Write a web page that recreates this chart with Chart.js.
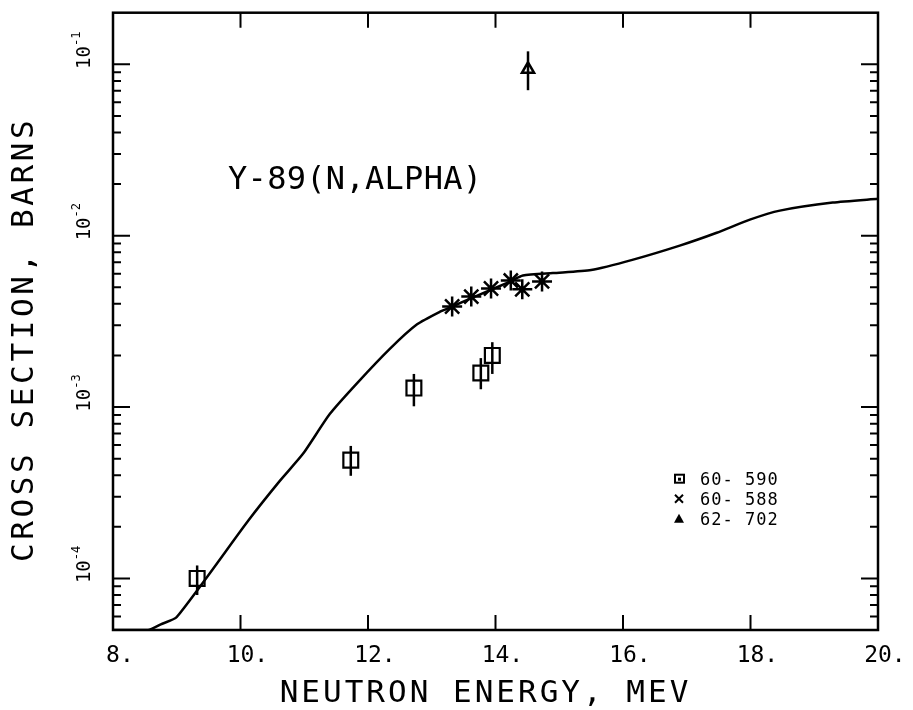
<!DOCTYPE html>
<html>
<head>
<meta charset="utf-8">
<title>Y-89(N,ALPHA)</title>
<script src="https://cdn.jsdelivr.net/npm/chart.js@4/dist/chart.umd.min.js"></script>
<style>
  body { margin: 0; background: #fff; }
  #wrap { width: 913px; height: 710px; }
</style>
</head>
<body>
<div id="wrap"><canvas id="chart" width="913" height="710"></canvas></div>
<script>
// evaluated curve
const curveEnergy = [8.0, 8.55, 8.75, 9.0, 10.12, 10.62, 10.98, 11.40, 11.83, 12.35, 12.77, 13.13, 13.32, 13.76, 14.23, 14.43, 14.9, 15.5, 16.16, 16.89, 17.47, 17.99, 18.46, 19.29, 20.0];
const curveSigma = [5.0e-5, 5.0e-5, 5.4e-5, 5.95e-5, 2.17e-4, 3.72e-4, 5.33e-4, 9.1e-4, 1.38e-3, 2.2e-3, 3.04e-3, 3.6e-3, 3.86e-3, 4.54e-3, 5.4e-3, 5.85e-3, 6.05e-3, 6.3e-3, 7.25e-3, 8.75e-3, 1.04e-2, 1.24e-2, 1.40e-2, 1.56e-2, 1.64e-2];

// measurements 60-590
const e590 = [9.32, 11.73, 12.72, 13.77, 13.95];
const s590 = [1.0e-4, 4.9e-4, 1.29e-3, 1.58e-3, 2.0e-3];
const lo590 = [8.0e-5, 3.97e-4, 1.01e-3, 1.27e-3, 1.56e-3];
const hi590 = [1.19e-4, 5.93e-4, 1.56e-3, 1.93e-3, 2.39e-3];

// measurements 60-588
const e588 = [13.32, 13.62, 13.93, 14.24, 14.42, 14.73];
const s588 = [3.86e-3, 4.41e-3, 4.92e-3, 5.47e-3, 4.86e-3, 5.41e-3];

// measurements 62-702
const e702 = [14.51];
const s702 = [9.35e-2];
const lo702 = [7.06e-2];
const hi702 = [0.119];

const xTicks = [8, 10, 12, 14, 16, 18, 20];
const yDecades = [-4, -3, -2, -1];
const legendLabels = ["60- 590", "60- 588", "62- 702"];
const plotTitle = "Y-89(N,ALPHA)";
const xTitle = "NEUTRON ENERGY, MEV";
const yTitle = "CROSS SECTION, BARNS";

function pts(xs, ys) {
    return xs.map((x, i) => ({ x: x, y: ys[i] }));
}

const errorBars = [
    { xs: e590, lo: lo590, hi: hi590 },
    { xs: e702, lo: lo702, hi: hi702 }
];

const mono = "'DejaVu Sans Mono', monospace";

const drawFrame = {
    id: "drawFrame",
    afterDatasetsDraw(chart) {
        const ctx = chart.ctx;
        const xs = chart.scales.x, ys = chart.scales.y;
        ctx.save();
        ctx.strokeStyle = "#000";
        ctx.lineWidth = 2.5;
        errorBars.forEach(set => {
            set.xs.forEach((x, i) => {
                const px = xs.getPixelForValue(x);
                ctx.beginPath();
                ctx.moveTo(px, ys.getPixelForValue(set.lo[i]));
                ctx.lineTo(px, ys.getPixelForValue(set.hi[i]));
                ctx.stroke();
            });
        });
        ctx.restore();
    },
    afterDraw(chart) {
        const ctx = chart.ctx;
        const a = chart.chartArea;
        const xs = chart.scales.x, ys = chart.scales.y;
        ctx.save();
        ctx.strokeStyle = "#000";
        ctx.fillStyle = "#000";
        ctx.lineWidth = 2.5;
        ctx.strokeRect(a.left, a.top, a.right - a.left, a.bottom - a.top);

        // x ticks, bottom and top, inward
        ctx.lineWidth = 2;
        xTicks.forEach(v => {
            const px = xs.getPixelForValue(v);
            if (v > xs.min && v < xs.max) {
                ctx.beginPath();
                ctx.moveTo(px, a.bottom); ctx.lineTo(px, a.bottom - 15);
                ctx.moveTo(px, a.top); ctx.lineTo(px, a.top + 15);
                ctx.stroke();
            }
        });

        // y ticks, log decades with minor ticks
        for (let e = -5; e <= -1; e++) {
            for (let m = 1; m <= 9; m++) {
                const v = m * Math.pow(10, e);
                if (v <= ys.min || v >= ys.max) continue;
                const py = ys.getPixelForValue(v);
                const len = m === 1 ? 17 : 8;
                ctx.beginPath();
                ctx.moveTo(a.left, py); ctx.lineTo(a.left + len, py);
                ctx.moveTo(a.right, py); ctx.lineTo(a.right - len, py);
                ctx.stroke();
            }
        }

        // x tick labels
        ctx.font = "23px " + mono;
        ctx.textBaseline = "alphabetic";
        xTicks.forEach(v => {
            const px = xs.getPixelForValue(v);
            const s = String(v);
            const w = ctx.measureText(s).width;
            ctx.textAlign = "left";
            ctx.fillText(s + ".", px - w / 2, a.bottom + 32);
        });

        // y tick labels, rotated, 10 with superscript exponent
        yDecades.forEach(e => {
            const py = ys.getPixelForValue(Math.pow(10, e));
            ctx.save();
            ctx.translate(a.left - 23, py - 14);
            ctx.rotate(-Math.PI / 2);
            ctx.font = "19px " + mono;
            const w1 = ctx.measureText("10").width;
            ctx.font = "12px " + mono;
            const sup = "-" + Math.abs(e);
            const w2 = ctx.measureText(sup).width;
            const start = -(w1 + w2) / 2;
            ctx.textAlign = "left";
            ctx.font = "19px " + mono;
            ctx.fillText("10", start, 0);
            ctx.font = "12px " + mono;
            ctx.fillText(sup, start + w1, -10);
            ctx.restore();
        });

        // axis titles
        ctx.font = "31px " + mono;
        ctx.letterSpacing = "3px";
        ctx.textAlign = "center";
        ctx.fillText(xTitle, (a.left + a.right) / 2 - 10, a.bottom + 72);
        ctx.save();
        ctx.letterSpacing = "3.6px";
        ctx.translate(33, (a.top + a.bottom) / 2 + 18);
        ctx.rotate(-Math.PI / 2);
        ctx.fillText(yTitle, 0, 0);
        ctx.restore();

        // plot label
        ctx.font = "32px " + mono;
        ctx.letterSpacing = "0.3px";
        ctx.textAlign = "left";
        ctx.fillText(plotTitle, a.left + 115, a.top + 176);

        // legend
        ctx.font = "17px " + mono;
        ctx.letterSpacing = "1px";
        const lx = a.left + 566, ly = a.top + 472;
        legendLabels.forEach((t, i) => {
            ctx.fillText(t, lx + 21, ly + i * 20);
        });
        ctx.lineWidth = 2;
        // square symbol
        ctx.strokeRect(lx - 4, ly - 10, 9, 8);
        ctx.fillRect(lx - 1, ly - 7, 3, 3);
        // cross symbol
        ctx.beginPath();
        ctx.moveTo(lx - 4, ly + 20 - 10); ctx.lineTo(lx + 4, ly + 20 - 2);
        ctx.moveTo(lx + 4, ly + 20 - 10); ctx.lineTo(lx - 4, ly + 20 - 2);
        ctx.stroke();
        // filled triangle
        ctx.beginPath();
        ctx.moveTo(lx, ly + 40 - 11);
        ctx.lineTo(lx + 5, ly + 40 - 2);
        ctx.lineTo(lx - 5, ly + 40 - 2);
        ctx.closePath();
        ctx.fill();
        ctx.restore();
    }
};

new Chart(document.getElementById("chart"), {
    type: "scatter",
    data: {
        datasets: [
            {
                label: "curve",
                data: pts(curveEnergy, curveSigma),
                showLine: true,
                borderColor: "#000",
                borderWidth: 2.5,
                pointRadius: 0,
                tension: 0.2
            },
            {
                label: "60-590",
                data: pts(e590, s590),
                pointStyle: "rect",
                pointRadius: 10.5,
                borderColor: "#000",
                backgroundColor: "rgba(0,0,0,0)",
                borderWidth: 2.2
            },
            {
                label: "60-588",
                data: pts(e588, s588),
                pointStyle: "star",
                pointRadius: 10,
                borderColor: "#000",
                borderWidth: 2.5
            },
            {
                label: "62-702",
                data: pts(e702, s702),
                pointStyle: "triangle",
                pointRadius: 7,
                borderColor: "#000",
                backgroundColor: "rgba(0,0,0,0)",
                borderWidth: 2.5
            }
        ]
    },
    options: {
        responsive: false,
        animation: false,
        devicePixelRatio: 1,
        layout: { padding: { left: 113, right: 35, top: 11, bottom: 80 } },
        plugins: { legend: { display: false }, tooltip: { enabled: false } },
        scales: {
            x: { type: "linear", min: 8, max: 20, display: false },
            y: { type: "logarithmic", min: 5e-5, max: 0.2, display: false }
        }
    },
    plugins: [drawFrame]
});
</script>
</body>
</html>
